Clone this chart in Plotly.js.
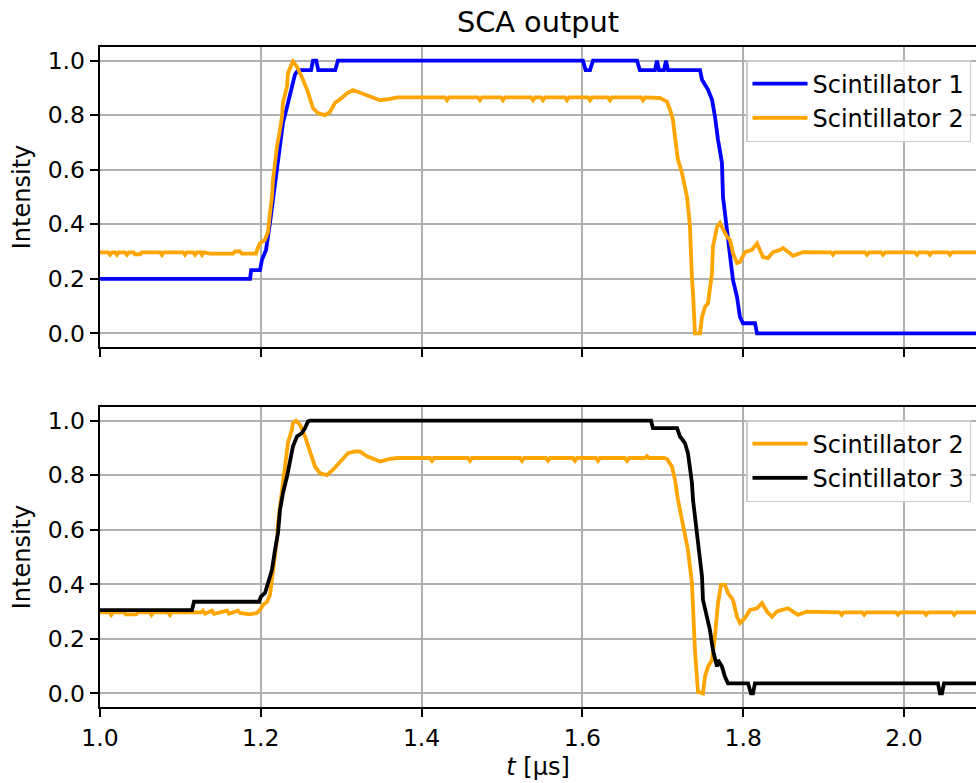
<!DOCTYPE html>
<html>
<head>
<meta charset="utf-8">
<script src="https://cdn.plot.ly/plotly-3.0.1.min.js"></script>
<style>html,body{margin:0;padding:0;background:#fff;}#chart{width:976px;height:783px;}</style>
</head>
<body>
<div id="chart"></div>
<script>
// ---- Scintillator 1 (top panel) ----
const t1 = [1.000, 1.1866, 1.1880, 1.1990, 1.2015, 1.2065, 1.2114, 1.2164, 1.2214, 1.2276,
            1.2326, 1.2376, 1.2425, 1.2463, 1.2625, 1.2650, 1.2690, 1.2715, 1.2925, 1.2960,
            1.6007, 1.6040, 1.6095, 1.6132, 1.6680, 1.6715, 1.6903, 1.6928, 1.6953, 1.7015,
            1.7040, 1.7065, 1.7463, 1.7488, 1.7562, 1.7612, 1.7649, 1.7687, 1.7736, 1.7749,
            1.7799, 1.7836, 1.7873, 1.7923, 1.7960, 1.7998, 1.8147, 1.8172, 2.0900];
const s1 = [0.200, 0.200, 0.232, 0.232, 0.270, 0.306, 0.405, 0.515, 0.648, 0.772,
            0.830, 0.894, 0.949, 0.965, 0.965, 1.000, 1.000, 0.965, 0.965, 1.000,
            1.000, 0.965, 0.965, 1.000, 1.000, 0.965, 0.965, 1.000, 0.965, 0.965,
            1.000, 0.965, 0.965, 0.930, 0.894, 0.857, 0.795, 0.710, 0.625, 0.500,
            0.380, 0.295, 0.196, 0.134, 0.060, 0.037, 0.037, 0.000, 0.000];

// ---- Scintillator 2 (top panel) ----
const t2 = [1.000, 1.010, 1.0125, 1.015, 1.019, 1.021, 1.0235, 1.031, 1.0335, 1.036,
            1.042, 1.0435, 1.050, 1.052, 1.075, 1.077, 1.079, 1.1035, 1.1057, 1.108,
            1.116, 1.1182, 1.1205, 1.125, 1.1269, 1.129, 1.1368, 1.1654, 1.1679, 1.1741,
            1.1766, 1.1940, 1.1953, 1.1990, 1.2052, 1.2090, 1.2114, 1.2139, 1.2152, 1.2177,
            1.2201, 1.2239, 1.2264, 1.2276, 1.2326, 1.2338, 1.2388, 1.2400, 1.2450, 1.2488,
            1.2525, 1.2575, 1.2612, 1.2649, 1.2711, 1.2799, 1.2861, 1.2923, 1.3010, 1.3072,
            1.3147, 1.3271, 1.3396, 1.3483, 1.3607, 1.3700,
            1.4291, 1.4316, 1.4341, 1.4701, 1.4726, 1.4751, 1.4987, 1.5012, 1.5037,
            1.5361, 1.5386, 1.5411, 1.5485, 1.5510, 1.5535, 1.5783, 1.5808, 1.5833,
            1.6070, 1.6095, 1.6120, 1.6318, 1.6343, 1.6368, 1.6729, 1.6754, 1.6779,
            1.6965, 1.7003, 1.7052, 1.7090, 1.7127, 1.7152, 1.7189, 1.7239, 1.7276, 1.7301,
            1.7326, 1.7338, 1.7363, 1.7376, 1.7400, 1.7463, 1.7488, 1.7525, 1.7562, 1.7612,
            1.7624, 1.7674, 1.7711, 1.7749, 1.7799, 1.7836, 1.7873, 1.7923, 1.7960, 1.8022,
            1.8109, 1.8172, 1.8209, 1.8246, 1.8308, 1.8371, 1.8458, 1.8495, 1.8582, 1.8619,
            1.8744, 1.8900,
            1.9092, 1.9117, 1.9142, 1.9515, 1.9540, 1.9565, 1.9714, 1.9739, 1.9764,
            2.0137, 2.0162, 2.0187, 2.0298, 2.0323, 2.0348, 2.0547, 2.0572, 2.0597, 2.0900];
const s2 = [0.297, 0.297, 0.288, 0.297, 0.297, 0.288, 0.297, 0.297, 0.288, 0.297,
            0.297, 0.290, 0.290, 0.297, 0.297, 0.288, 0.297, 0.297, 0.288, 0.297,
            0.297, 0.288, 0.297, 0.297, 0.288, 0.297, 0.292, 0.292, 0.300, 0.300,
            0.292, 0.292, 0.306, 0.330, 0.343, 0.372, 0.440, 0.500, 0.563, 0.636,
            0.685, 0.747, 0.795, 0.845, 0.905, 0.955, 0.990, 0.997, 0.978, 0.955,
            0.930, 0.894, 0.857, 0.826, 0.808, 0.800, 0.812, 0.845, 0.864, 0.880,
            0.892, 0.877, 0.862, 0.855, 0.860, 0.865,
            0.865, 0.855, 0.865, 0.865, 0.855, 0.865, 0.865, 0.855, 0.865,
            0.865, 0.855, 0.865, 0.865, 0.855, 0.865, 0.865, 0.855, 0.865,
            0.865, 0.855, 0.865, 0.865, 0.855, 0.865, 0.865, 0.855, 0.865,
            0.863, 0.857, 0.850, 0.820, 0.783, 0.720, 0.636, 0.588, 0.538, 0.500,
            0.430, 0.390, 0.200, 0.148, 0.000, 0.000, 0.060, 0.097, 0.110, 0.220,
            0.317, 0.390, 0.405, 0.380, 0.354, 0.343, 0.294, 0.258, 0.262, 0.298,
            0.306, 0.330, 0.306, 0.280, 0.276, 0.298, 0.306, 0.313, 0.294, 0.284,
            0.298, 0.297,
            0.297, 0.288, 0.297, 0.297, 0.288, 0.297, 0.297, 0.288, 0.297,
            0.297, 0.288, 0.297, 0.297, 0.288, 0.297, 0.297, 0.288, 0.297, 0.297];

// ---- Scintillator 2 (bottom panel) ----
const t2b = [1.000, 1.012, 1.014, 1.016, 1.030, 1.032, 1.045, 1.047, 1.062, 1.064,
             1.066, 1.085, 1.087, 1.089, 1.1256, 1.1281, 1.1306, 1.1393, 1.1418, 1.1493,
             1.1580, 1.1604, 1.1716, 1.1741, 1.1866, 1.1953, 1.1990, 1.2027, 1.2077, 1.2114,
             1.2139, 1.2152, 1.2177, 1.2201, 1.2214, 1.2239, 1.2276, 1.2301, 1.2326, 1.2338,
             1.2388, 1.2400, 1.2438, 1.2488, 1.2550, 1.2587, 1.2637, 1.2674, 1.2736, 1.2823,
             1.2898, 1.2985, 1.3085, 1.3172, 1.3234, 1.3321, 1.3483, 1.3607, 1.3700,
             1.4104, 1.4129, 1.4154, 1.4577, 1.4602, 1.4627, 1.5224, 1.5249, 1.5274,
             1.5547, 1.5572, 1.5597, 1.5883, 1.5908, 1.5933, 1.6169, 1.6194, 1.6219,
             1.6530, 1.6555, 1.6580, 1.6778, 1.6803, 1.6828,
             1.7010, 1.7052, 1.7114, 1.7152, 1.7189, 1.7239, 1.7276, 1.7313, 1.7363, 1.7376,
             1.7400, 1.7438, 1.7500, 1.7525, 1.7562, 1.7612, 1.7649, 1.7687, 1.7724, 1.7774,
             1.7811, 1.7873, 1.7923, 1.7960, 1.8022, 1.8085, 1.8172, 1.8234, 1.8296, 1.8358,
             1.8420, 1.8557, 1.8682, 1.8794, 1.9000,
             1.9200, 1.9225, 1.9250, 1.9480, 1.9505, 1.9530, 1.9900, 1.9925, 1.9950,
             2.0250, 2.0275, 2.0300, 2.0600, 2.0625, 2.0650, 2.0900];
const s2b = [0.297, 0.297, 0.288, 0.297, 0.297, 0.290, 0.290, 0.297, 0.297, 0.288,
             0.297, 0.297, 0.288, 0.297, 0.297, 0.303, 0.292, 0.303, 0.292, 0.297,
             0.303, 0.292, 0.303, 0.295, 0.290, 0.295, 0.306, 0.324, 0.336, 0.361,
             0.416, 0.453, 0.515, 0.563, 0.625, 0.685, 0.759, 0.820, 0.869, 0.919,
             0.967, 0.992, 1.000, 0.985, 0.942, 0.906, 0.869, 0.832, 0.808, 0.800,
             0.820, 0.850, 0.881, 0.887, 0.887, 0.869, 0.850, 0.860, 0.863,
             0.863, 0.853, 0.863, 0.863, 0.853, 0.863, 0.863, 0.853, 0.863,
             0.863, 0.853, 0.863, 0.863, 0.853, 0.863, 0.863, 0.853, 0.863,
             0.863, 0.853, 0.863, 0.863, 0.870, 0.863,
             0.863, 0.860, 0.832, 0.783, 0.710, 0.636, 0.575, 0.526, 0.404, 0.306,
             0.159, 0.006, 0.000, 0.061, 0.098, 0.122, 0.208, 0.331, 0.398, 0.398,
             0.368, 0.343, 0.281, 0.258, 0.276, 0.306, 0.312, 0.331, 0.300, 0.281,
             0.300, 0.312, 0.288, 0.300, 0.297,
             0.297, 0.288, 0.297, 0.297, 0.288, 0.297, 0.297, 0.288, 0.297,
             0.297, 0.288, 0.297, 0.297, 0.288, 0.297, 0.297];

// ---- Scintillator 3 (bottom panel) ----
const t3 = [1.0000, 1.1144, 1.1169, 1.1978, 1.2002, 1.2052, 1.2090, 1.2139, 1.2177, 1.2214,
            1.2239, 1.2276, 1.2326, 1.2363, 1.2400, 1.2450, 1.2512, 1.2550, 1.2587, 1.2612,
            1.6853, 1.6878, 1.7177, 1.7214, 1.7276, 1.7313, 1.7338, 1.7363, 1.7376, 1.7400,
            1.7438, 1.7488, 1.7500, 1.7550, 1.7587, 1.7624, 1.7674, 1.7687, 1.7736, 1.7774,
            1.7811, 1.8060, 1.8097, 1.8122, 1.8147, 2.0423, 2.0448, 2.0473, 2.0498, 2.0900];
const s3 = [0.305, 0.305, 0.336, 0.336, 0.355, 0.368, 0.404, 0.453, 0.526, 0.588,
            0.673, 0.735, 0.795, 0.857, 0.906, 0.942, 0.955, 0.973, 0.997, 1.000,
            1.000, 0.973, 0.973, 0.942, 0.918, 0.881, 0.832, 0.771, 0.710, 0.649,
            0.526, 0.428, 0.343, 0.281, 0.232, 0.159, 0.098, 0.122, 0.098, 0.061,
            0.037, 0.037, 0.000, 0.000, 0.037, 0.037, 0.000, 0.000, 0.037, 0.037];

const xTicks = [1.0, 1.2, 1.4, 1.6, 1.8, 2.0];
const xTickText = ['1.0', '1.2', '1.4', '1.6', '1.8', '2.0'];
const yTicks = [0.0, 0.2, 0.4, 0.6, 0.8, 1.0];
const yTickText = ['0.0', '0.2', '0.4', '0.6', '0.8', '1.0'];

const LW = 3.8;
const traces = [
  {x: t1, y: s1, xaxis: 'x', yaxis: 'y', mode: 'lines', name: 'Scintillator 1',
   line: {color: '#0000ff', width: LW}, legend: 'legend'},
  {x: t2, y: s2, xaxis: 'x', yaxis: 'y', mode: 'lines', name: 'Scintillator 2',
   line: {color: '#ffa500', width: LW}, legend: 'legend'},
  {x: t2b, y: s2b, xaxis: 'x2', yaxis: 'y2', mode: 'lines', name: 'Scintillator 2',
   line: {color: '#ffa500', width: LW}, legend: 'legend2'},
  {x: t3, y: s3, xaxis: 'x2', yaxis: 'y2', mode: 'lines', name: 'Scintillator 3',
   line: {color: '#000000', width: LW}, legend: 'legend2'}
];

const grid = '#b0b0b0';
function xax(extra) {
  return Object.assign({
    range: [1.0, 2.0896], tickmode: 'array', tickvals: xTicks, ticktext: xTickText,
    showgrid: true, gridcolor: grid, gridwidth: 1.9, zeroline: false,
    showline: true, linecolor: 'black', linewidth: 1.9, mirror: true,
    ticks: 'outside', ticklen: 8.4, tickwidth: 1.9, tickcolor: 'black',
    tickfont: {size: 23.5, color: 'black'}
  }, extra);
}
function yax(extra) {
  return Object.assign({
    range: [-0.05, 1.05], tickmode: 'array', tickvals: yTicks, ticktext: yTickText,
    showgrid: true, gridcolor: grid, gridwidth: 1.9, zeroline: false,
    showline: true, linecolor: 'black', linewidth: 1.9, mirror: false,
    ticks: 'outside', ticklen: 8.4, tickwidth: 1.9, tickcolor: 'black',
    tickfont: {size: 23.5, color: 'black'},
    title: {text: 'Intensity', font: {size: 24, color: 'black'}, standoff: 10}
  }, extra);
}
const legendCommon = {
  x: 0.9943, xanchor: 'right', yanchor: 'top', itemwidth: 55,
  bgcolor: 'rgba(255,255,255,0.85)', bordercolor: '#cccccc', borderwidth: 1.5,
  font: {size: 24, color: 'black'}, traceorder: 'normal'
};
const layout = {
  width: 976, height: 783,
  paper_bgcolor: 'white', plot_bgcolor: 'white',
  margin: {l: 100, r: 0, t: 47, b: 76, pad: 0},
  font: {family: 'DejaVu Sans, sans-serif', size: 24, color: 'black'},
  title: {text: 'SCA output', font: {size: 28.8, color: 'black'},
          x: 0.5, xref: 'paper', xanchor: 'center', y: 1 - 22 / 783, yref: 'container', yanchor: 'middle'},
  xaxis: xax({anchor: 'y', domain: [0, 1], showticklabels: false}),
  yaxis: yax({anchor: 'x', domain: [0.5455, 1]}),
  xaxis2: xax({anchor: 'y2', domain: [0, 1], matches: 'x',
               title: {text: '<i>t</i> [μs]', font: {size: 24, color: 'black'}, standoff: 8}}),
  yaxis2: yax({anchor: 'x2', domain: [0, 0.4545]}),
  showlegend: true,
  legend: Object.assign({y: 0.9803}, legendCommon),
  legend2: Object.assign({y: 0.4348}, legendCommon)
};
Plotly.newPlot('chart', traces, layout, {staticPlot: true, displayModeBar: false});
</script>
</body>
</html>
